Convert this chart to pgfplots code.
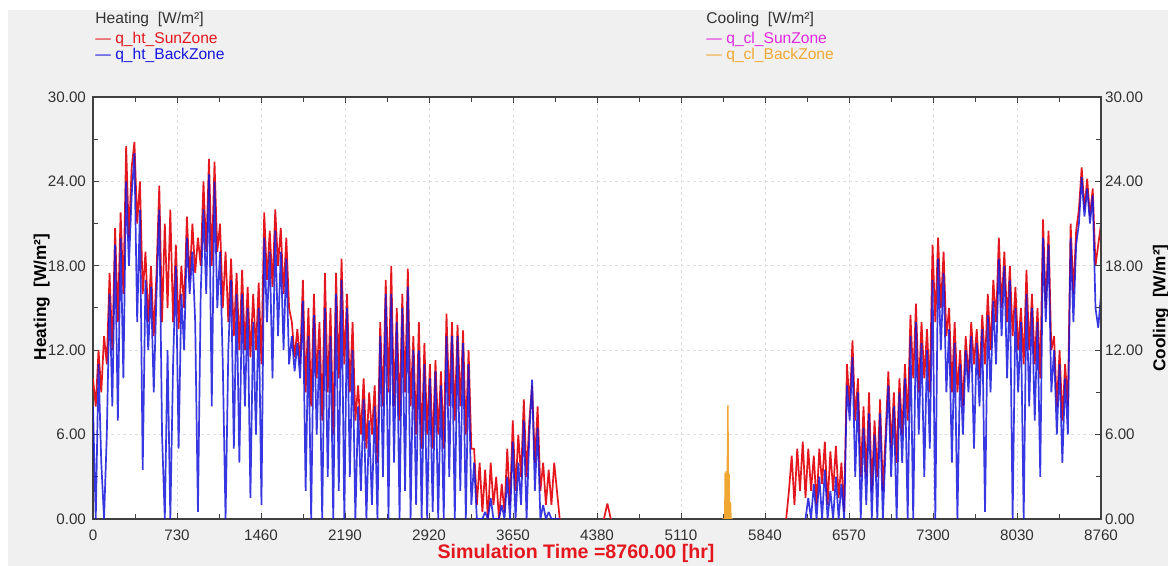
\documentclass[border=0pt]{standalone}
\usepackage{pgfplots}
\pgfplotsset{compat=1.18}
\usepackage{pgfplotstable}
\usepackage{fontspec}
\setmainfont{Liberation Sans}
\definecolor{bggray}{RGB}{240,240,240}
\definecolor{htred}{RGB}{228,22,30}
\definecolor{htblue}{RGB}{22,22,222}
\definecolor{clmag}{RGB}{226,40,226}
\definecolor{clorange}{RGB}{240,168,50}
\definecolor{lbl}{RGB}{50,50,50}

\pgfplotstableread{
h R B
0 10 8
24 8 0
48 12 11
72 9 4
96 13 0
120 11 6
144 17.5 16
168 12 8
192 20.7 19.5
216 14 7
240 21.8 20
264 16 10
288 26.5 24
312 20 18
336 25 23
360 26.8 26
384 21 14
408 24 22
432 16 3.5
456 19 17
480 14 12
504 18 16.5
528 13 9
552 17.5 16
576 23.7 22
600 14 6
624 21 0
648 15 12
672 22 0
696 14 11
720 19.5 18
744 13.5 5
768 18 16
792 15 12
816 21.5 20
840 17 16
864 21 19
888 17.5 14
912 20 0.5
936 18 16
960 24 22
984 19 16
1008 25.6 24.5
1032 18 8
1056 25.4 24
1080 19 15
1104 21 19
1128 15 11
1152 19 0
1176 14 12
1200 18.5 17
1224 13 5
1248 17.5 16
1272 12 4
1296 17.7 16
1320 12 8
1344 16.5 15
1368 11.5 1.5
1392 16 14
1416 12 6
1440 16.8 15
1464 11 1
1488 21.8 20
1512 17 14
1536 20.5 19
1560 16.5 10
1584 22 20.5
1608 18 13
1632 20.7 19
1656 16 12
1680 20 18.5
1704 15 11
1728 14 13
1752 11.5 10.5
1776 13.5 12.5
1800 11 10
1824 17 15.5
1848 9 2
1872 15 13
1896 8 0
1920 16 14.5
1944 10 6
1968 14 12
1992 7 0
2016 17.5 15
2040 9 3
2064 15 13
2088 6 0
2112 17.5 16
2136 10 2
2160 18.5 17
2184 11 0
2208 16 15
2232 9 3
2256 14 12
2280 7 0
2304 9.5 8
2328 6 2
2352 10 8.5
2376 5 0
2400 9 7
2424 6 1
2448 9.5 8
2472 4 0
2496 14 13
2520 8 3
2544 17 16
2568 9 0
2592 18 16
2616 8 4
2640 15 14
2664 7 0
2688 16 15
2712 9 2
2736 17.8 16.5
2760 8 0
2784 13 12
2808 6 1
2832 14 12
2856 5 0
2880 12.5 11
2904 6 0
2928 11 10
2952 5 0.5
2976 11.3 10.5
3000 6 0
3024 10.5 9.5
3048 5 0
3072 14.6 13
3096 8 3
3120 14 13
3144 7 0
3168 13.8 13
3192 8 2
3216 13.4 12.5
3240 6 0
3264 12 11
3288 5 1
3312 5 4
3336 1 0
3360 4 0
3384 0.5 0
3408 3.5 0.5
3432 0 0
3456 4 1.5
3480 1 0
3504 3 0
3528 0 0
3552 2.5 1
3576 0.5 0
3600 5 3
3624 1 0
3648 7 5.5
3672 2 0
3696 6 4
3720 3 1
3744 8.5 7
3768 3 0
3792 7 6
3816 9.5 9.9
3840 4 2
3864 8 6.5
3888 2 0
3912 4 1
3936 1 0
3960 3.5 0.5
3984 1 0
4008 4 0
4032 2 0
4056 0 0
4060 nan nan
4440 0 nan
4470 1.1 nan
4484 0.6 nan
4500 0 nan
4510 nan nan
6024 0 nan
6048 2 nan
6072 4.5 nan
6096 1 nan
6120 5 nan
6144 2 nan
6168 5.5 nan
6192 1.5 0
6216 5 1.5
6240 2 0
6264 4.5 2.5
6288 1 0
6312 5 3
6336 2.5 0
6360 5.5 3.5
6384 1 0
6408 4.8 2
6432 2 0
6456 5.2 3
6480 1.5 0
6504 4 2.5
6528 0.5 0
6552 11 9.5
6576 8 7
6600 12.7 11.5
6624 7 3
6648 10 9
6672 3 0
6696 8 6.5
6720 3 1
6744 9 7.5
6768 2 0
6792 7 6
6816 3 0
6840 8.5 7.5
6864 2 0
6888 6 5
6912 10.5 9.5
6936 5 3
6960 9 8
6984 4 0
7008 10 9
7032 6 4
7056 11 10
7080 7 0
7104 14.5 13
7128 10 0
7152 15.3 14
7176 9 6
7200 14 12.5
7224 10 3
7248 13.5 12
7272 9 5
7296 19.5 17
7320 14 0
7344 20 18.5
7368 15 12
7392 19 17.5
7416 13 9
7440 15 13.5
7464 9 4
7488 14 12.5
7512 9 0
7536 12 11
7560 8 6
7584 13 12
7608 10 9
7632 14 13
7656 11 5
7680 13.5 12.5
7704 10 8
7728 14.5 13.5
7752 11 0.5
7776 16 14.5
7800 12 9
7824 17 15.5
7848 14 11
7872 20 18.5
7896 15 13
7920 19 18
7944 14 10
7968 18 17
7992 13 0
8016 16.5 15
8040 12 9
8064 15 14
8088 11 0
8112 17.7 16
8136 12 8
8160 16 15
8184 11 7
8208 15 14
8232 10 3
8256 21.3 20
8280 15 14
8304 20.5 19.5
8328 12 9
8352 13 12
8376 8 6
8400 12 11
8424 7 4
8448 11 10
8472 8 6
8496 21 20
8520 16 14
8544 20.5 19.5
8568 22 21
8592 25 24.3
8616 22 21.5
8640 24.2 23.5
8664 21.5 21
8688 23.5 23
8712 18 15
8736 19.5 13.6
8760 21 16
}\heat

\pgfplotstableread{
h C
5470 0
5490 0
5494 3.3
5498 0
5504 3.4
5508 0
5518 8.1
5521 0
5528 3.2
5532 0
5540 1.2
5544 0
5560 0
}\cool

\begin{document}
\begin{tikzpicture}[x=1pt,y=1pt]
\path[use as bounding box] (0,0) rectangle (584,283);
\fill[white] (0,0) rectangle (584,283);
\fill[bggray] (4,0) rectangle (584,278);

\begin{axis}[
  at={(46.5pt,23.5pt)}, anchor=south west,
  scale only axis, width=504pt, height=211pt,
  xmin=0, xmax=8760, ymin=0, ymax=30,
  xtick={0,730,1460,2190,2920,3650,4380,5110,5840,6570,7300,8030,8760},
  ytick={0,6,12,18,24,30},
  minor x tick num=1, minor y tick num=1,
  tick align=inside, major tick length=3pt, minor tick length=2.5pt,
  xmajorgrids, ymajorgrids,
  grid style={dash pattern=on 1.5pt off 1.5pt, color=black!12, line width=0.5pt},
  axis line style={color=black!75, line width=0.6pt},
  every tick/.style={color=black!75, line width=0.5pt},
  axis background/.style={fill=white},
  yticklabel pos=left,
  /pgf/number format/assume math mode=true,
  tick label style={font=\fontsize{7.6}{9}\selectfont, text=lbl},
  xticklabel={\pgfmathprintnumber[fixed,precision=0,1000 sep={}]{\tick}},
  yticklabel={\pgfmathprintnumber[fixed,fixed zerofill,precision=2]{\tick}},
  xticklabel style={yshift=-2pt},
  unbounded coords=jump,
]
\addplot[htred, line width=0.85pt, line join=bevel] table[x=h, y=R] {\heat};
\addplot[htblue, line width=0.85pt, line join=bevel, opacity=0.85] table[x=h, y=B] {\heat};
\end{axis}

\begin{axis}[
  at={(46.5pt,23.5pt)}, anchor=south west,
  scale only axis, width=504pt, height=211pt,
  xmin=0, xmax=8760, ymin=0, ymax=30,
  axis x line=none, axis y line*=right,
  ytick={0,6,12,18,24,30},
  minor y tick num=1,
  tick align=inside, major tick length=3pt, minor tick length=2.5pt,
  axis line style={color=black!75, line width=0.6pt},
  every tick/.style={color=black!75, line width=0.5pt},
  /pgf/number format/assume math mode=true,
  tick label style={font=\fontsize{7.6}{9}\selectfont, text=lbl},
  yticklabel={\pgfmathprintnumber[fixed,fixed zerofill,precision=2]{\tick}},
  yticklabel style={xshift=-1.5pt},
]
\addplot[clorange, line width=0.7pt] table[x=h, y=C] {\cool};
\end{axis}

% axis titles
\node[rotate=90, font=\fontsize{8.6}{10}\selectfont\bfseries] at (20.8,134.5) {Heating\ \ [W/m²]};
\node[rotate=90, font=\fontsize{8.6}{10}\selectfont\bfseries] at (580.5,129) {Cooling\ \ [W/m²]};
\node[font=\fontsize{9.8}{11}\selectfont\bfseries, text=htred] at (288,6.5) {Simulation Time =8760.00 [hr]};

% legend headers
\node[anchor=west, inner sep=0, font=\fontsize{7.8}{9}\selectfont, text=lbl] at (47.5,273.5) {Heating\ \ [W/m²]};
\node[anchor=west, inner sep=0, font=\fontsize{7.8}{9}\selectfont, text=htred] at (47.5,263.5) {— q\_ht\_SunZone};
\node[anchor=west, inner sep=0, font=\fontsize{7.8}{9}\selectfont, text=htblue] at (47.5,255.5) {— q\_ht\_BackZone};
\node[anchor=west, inner sep=0, font=\fontsize{7.8}{9}\selectfont, text=lbl] at (353,273.5) {Cooling\ \ [W/m²]};
\node[anchor=west, inner sep=0, font=\fontsize{7.8}{9}\selectfont, text=clmag] at (353,263.5) {— q\_cl\_SunZone};
\node[anchor=west, inner sep=0, font=\fontsize{7.8}{9}\selectfont, text=clorange] at (353,255.5) {— q\_cl\_BackZone};
\end{tikzpicture}
\end{document}
